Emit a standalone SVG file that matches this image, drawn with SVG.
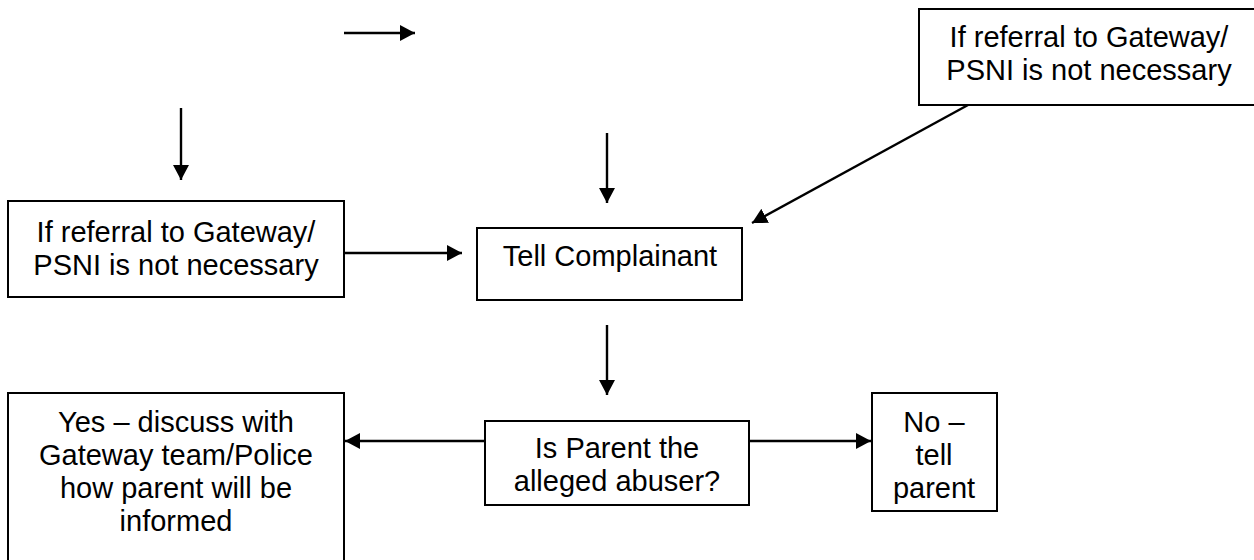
<svg xmlns="http://www.w3.org/2000/svg" width="1254" height="560" viewBox="0 0 1254 560">
<style>
.box{fill:#fff;stroke:#000;stroke-width:2}
.t{font-family:"Liberation Sans",Arial,sans-serif;font-size:29px;fill:#000;text-anchor:middle}
.c{stroke:#000;stroke-width:2.4;fill:none;marker-end:url(#ah)}
</style>
<defs>
<marker id="ah" viewBox="0 0 15 16" refX="15" refY="8" markerWidth="15" markerHeight="16" orient="auto" markerUnits="userSpaceOnUse">
<path d="M0,0 L15,8 L0,16 Z" fill="#000"/>
</marker>
</defs>
<rect width="1254" height="560" fill="#fff"/>
<g id="connectors">
<line class="c" x1="344" y1="33" x2="415" y2="33"/>
<line class="c" x1="181" y1="108" x2="181" y2="180"/>
<line class="c" x1="607" y1="133" x2="607" y2="203"/>
<line class="c" x1="968" y1="105" x2="752" y2="223"/>
<line class="c" x1="344" y1="253" x2="462" y2="253"/>
<line class="c" x1="607" y1="325" x2="607" y2="395"/>
<line class="c" x1="485" y1="441" x2="345" y2="441"/>
<line class="c" x1="749" y1="441" x2="871" y2="441"/>
</g>
<g id="node-topright">
<rect class="box" x="919" y="9" width="336" height="96"/>
<text class="t" x="1089" y="47">If referral to Gateway/</text>
<text class="t" x="1089" y="80">PSNI is not necessary</text>
</g>
<g id="node-left">
<rect class="box" x="8" y="201" width="336" height="96"/>
<text class="t" x="176" y="242">If referral to Gateway/</text>
<text class="t" x="176" y="275">PSNI is not necessary</text>
</g>
<g id="node-tell">
<rect class="box" x="477" y="228" width="265" height="72"/>
<text class="t" x="610" y="266">Tell Complainant</text>
</g>
<g id="node-question">
<rect class="box" x="485" y="421" width="264" height="84"/>
<text class="t" x="617" y="458">Is Parent the</text>
<text class="t" x="617" y="491">alleged abuser?</text>
</g>
<g id="node-yes">
<rect class="box" x="8" y="393" width="336" height="175"/>
<text class="t" x="176" y="432">Yes – discuss with</text>
<text class="t" x="176" y="465">Gateway team/Police</text>
<text class="t" x="176" y="498">how parent will be</text>
<text class="t" x="176" y="531">informed</text>
</g>
<g id="node-no">
<rect class="box" x="872" y="393" width="125" height="118"/>
<text class="t" x="934" y="432">No –</text>
<text class="t" x="934" y="465">tell</text>
<text class="t" x="934" y="498">parent</text>
</g>
</svg>
